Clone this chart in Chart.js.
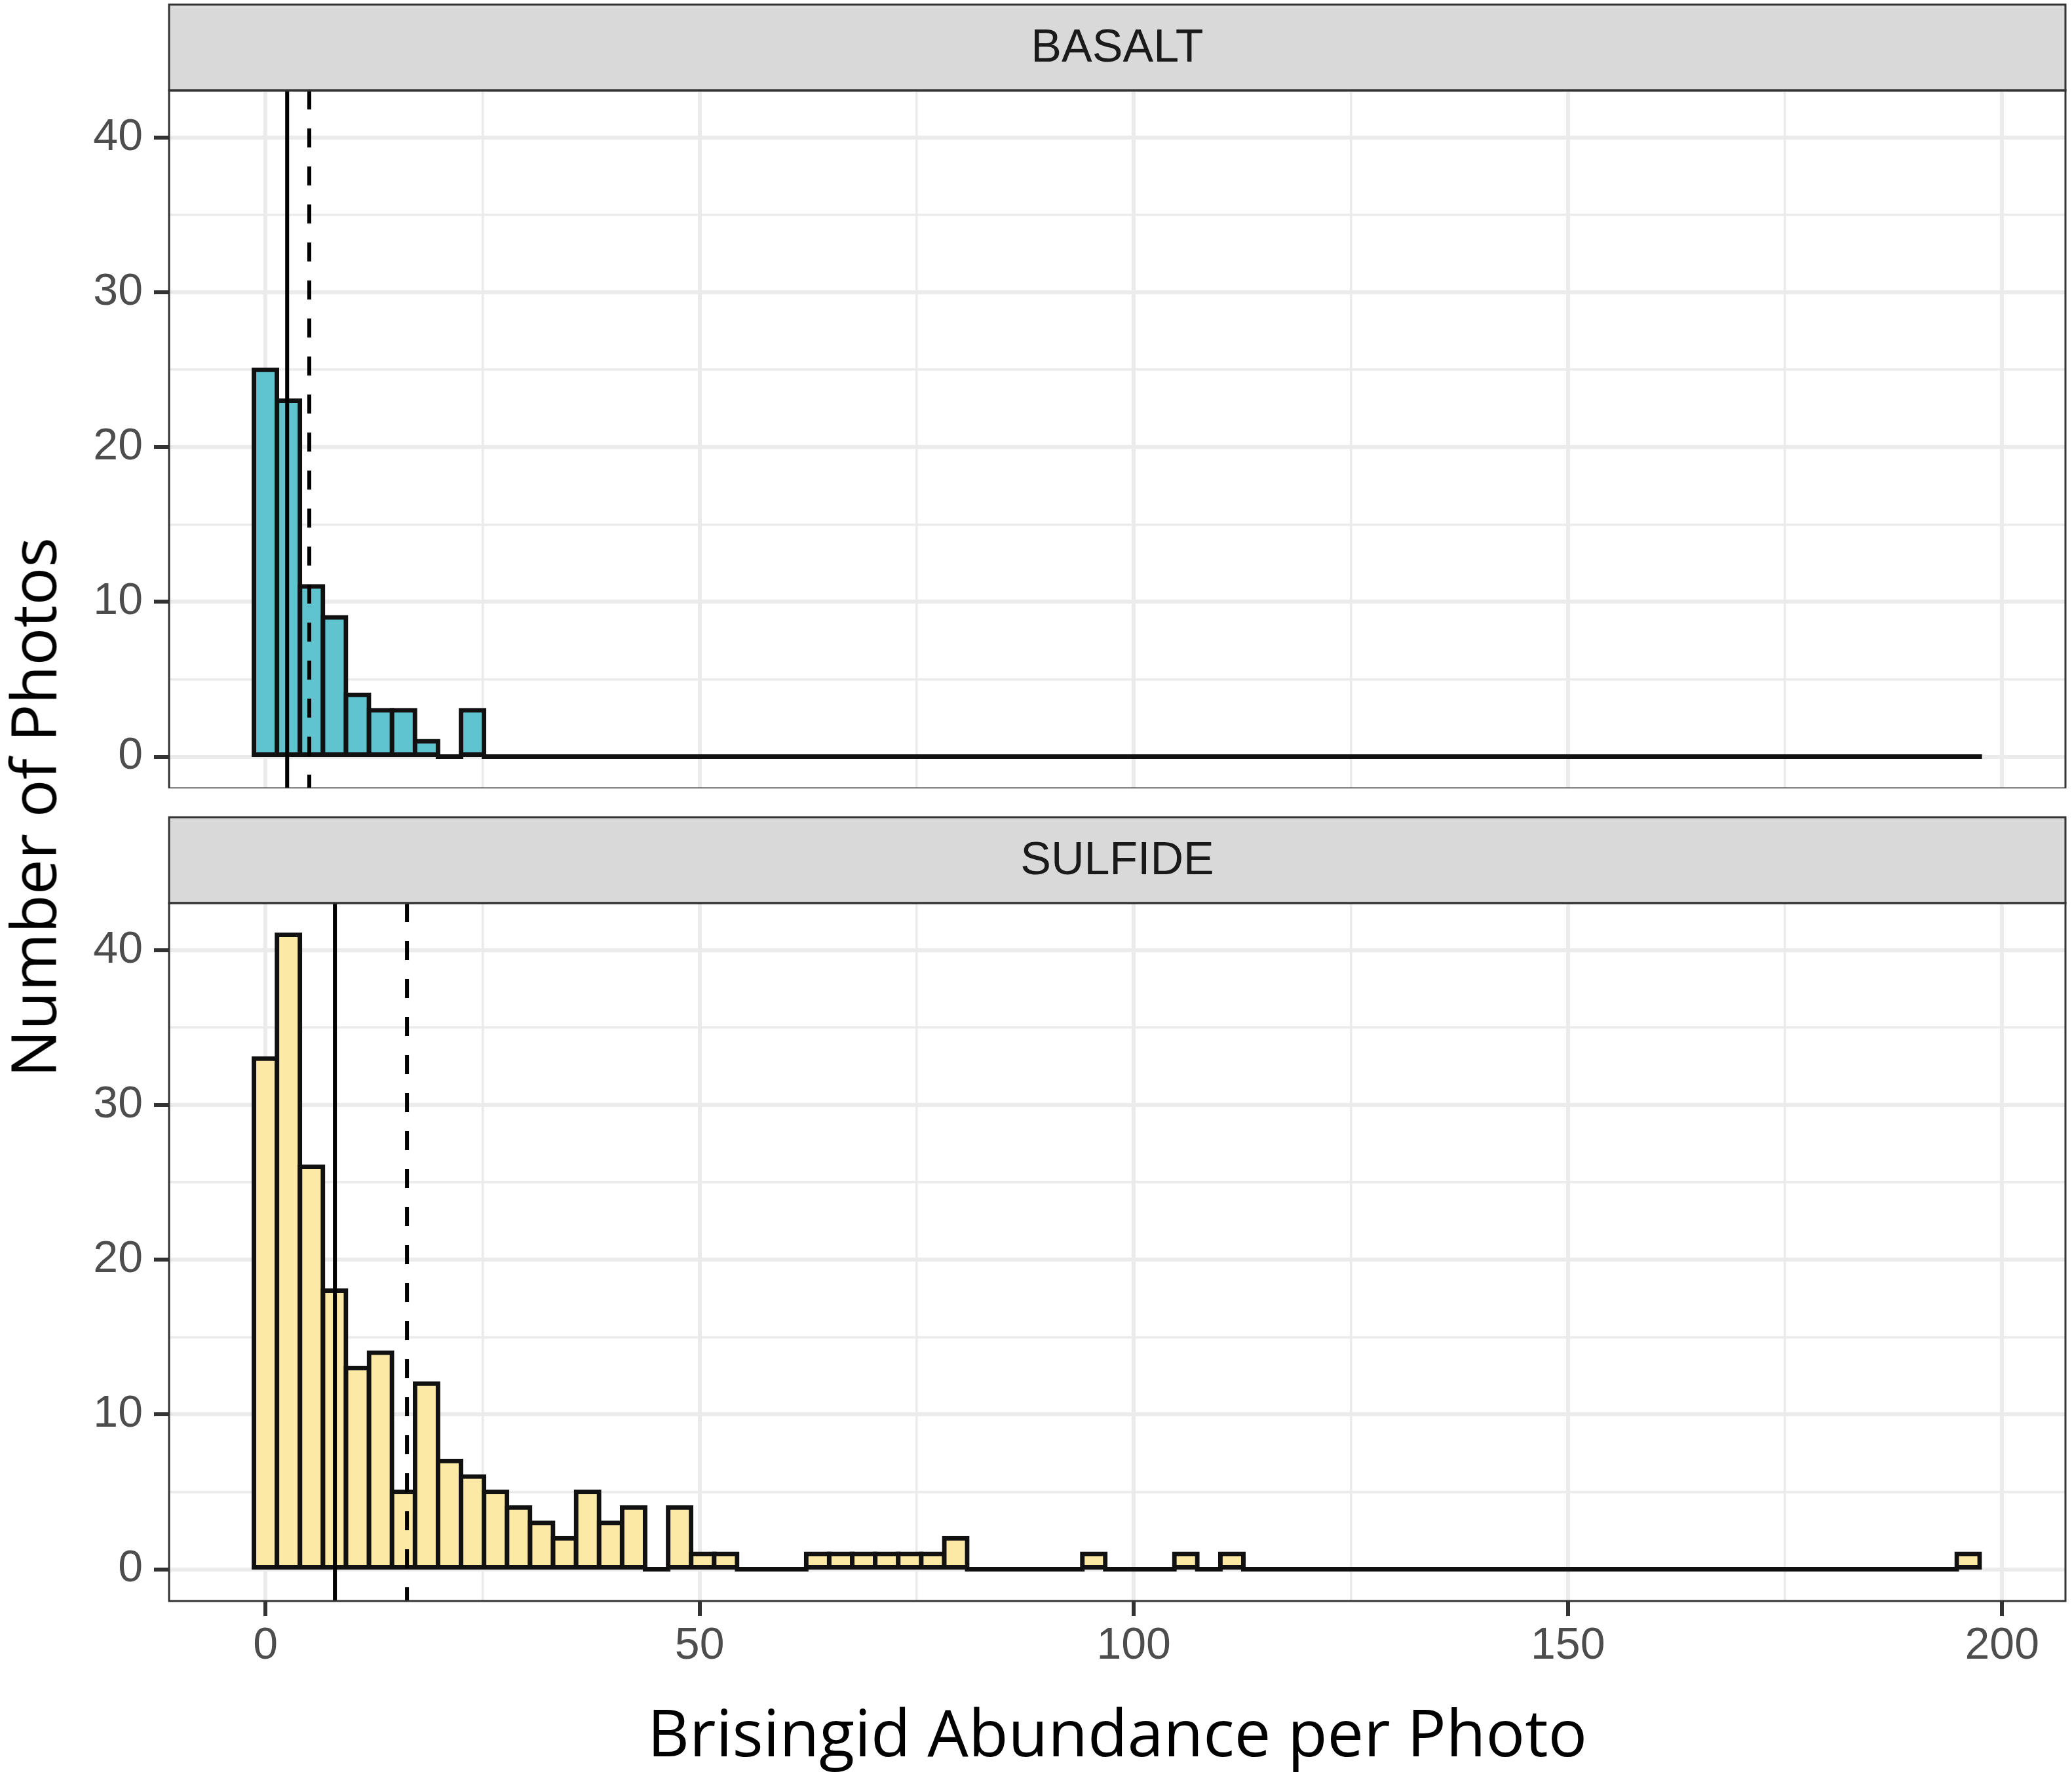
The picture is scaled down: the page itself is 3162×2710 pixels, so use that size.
<!DOCTYPE html>
<html>
<head>
<meta charset="utf-8">
<title>Brisingid Abundance per Photo</title>
<script src="https://cdn.jsdelivr.net/npm/chart.js@4.4.0/dist/chart.umd.min.js"></script>
<style>
  html, body { margin: 0; padding: 0; background: #fff; }
  #wrap { position: relative; width: 3162px; height: 2710px; overflow: hidden; background: #fff; }
  canvas { position: absolute; left: 0; }
  #basalt { top: 0; }
  #sulfide { top: 1210px; }
  #ytitle {
    position: absolute; left: 48px; top: 1232px;
    transform: translate(-50%, -50%) rotate(-90deg);
    font: 96px "Open Sans"; color: #000; white-space: nowrap;
  }
</style>
</head>
<body>
<div id="wrap">
  <canvas id="basalt" width="3162" height="1203"></canvas>
  <canvas id="sulfide" width="3162" height="1500"></canvas>
  <div id="ytitle">Number of Photos</div>
</div>
<script>
// histogram bins (centred on k * binWidth), counts
const binWidth = 2.65;
const basaltCounts = [
  25, 23, 11, 9, 4, 3, 3, 1, 0, 3, 0, 0, 0, 0, 0,
  0, 0, 0, 0, 0, 0, 0, 0, 0, 0, 0, 0, 0, 0, 0,
  0, 0, 0, 0, 0, 0, 0, 0, 0, 0, 0, 0, 0, 0, 0,
  0, 0, 0, 0, 0, 0, 0, 0, 0, 0, 0, 0, 0, 0, 0,
  0, 0, 0, 0, 0, 0, 0, 0, 0, 0, 0, 0, 0, 0, 0
];
const sulfideCounts = [
  33, 41, 26, 18, 13, 14, 5, 12, 7, 6, 5, 4, 3, 2, 5,
  3, 4, 0, 4, 1, 1, 0, 0, 0, 1, 1, 1, 1, 1, 1,
  2, 0, 0, 0, 0, 0, 1, 0, 0, 0, 1, 0, 1, 0, 0,
  0, 0, 0, 0, 0, 0, 0, 0, 0, 0, 0, 0, 0, 0, 0,
  0, 0, 0, 0, 0, 0, 0, 0, 0, 0, 0, 0, 0, 0, 1
];
// solid = median, dashed = mean
const basaltLines = [2.5, 5.05];
const sulfideLines = [8, 16.3];

const xTicks = [0, 50, 100, 150, 200];
const xMinor = [25, 75, 125, 175];
const yTicks = [0, 10, 20, 30, 40];
const yMinor = [5, 15, 25, 35];
const xRange = [-11.1, 207.3];
const yRange = [-2.05, 43.05];

const binCenters = basaltCounts.map((c, k) => k * binWidth);

// grey strip with the facet name + panel border
const facetPlugin = {
  id: 'facet',
  afterDraw(chart, args, opts) {
    const { ctx, chartArea: a } = chart;
    ctx.save();
    ctx.fillStyle = '#d9d9d9';
    ctx.fillRect(a.left, opts.stripTop, a.right - a.left, a.top - opts.stripTop);
    ctx.strokeStyle = '#333333';
    ctx.lineWidth = 3;
    ctx.strokeRect(a.left, opts.stripTop, a.right - a.left, a.top - opts.stripTop);
    ctx.strokeRect(a.left, a.top, a.right - a.left, a.bottom - a.top);
    ctx.fillStyle = '#1a1a1a';
    ctx.font = '70px "Liberation Sans"';
    ctx.textAlign = 'center';
    ctx.textBaseline = 'middle';
    ctx.fillText(opts.label, (a.left + a.right) / 2, (opts.stripTop + a.top) / 2 + 2);
    ctx.restore();
  }
};

function isMajor(list, ctx) {
  return ctx.tick && list.includes(ctx.tick.value);
}

function isEmptyBin(c) {
  return c.raw && c.raw.y === 0;
}

function makePanel(id, label, counts, fill, lines, stripTop, padTop, bottom) {
  const ctx = document.getElementById(id).getContext('2d');
  return new Chart(ctx, {
    type: 'bar',
    data: {
      datasets: [{
        type: 'line',
        data: [{ x: lines[0], y: yRange[0] }, { x: lines[0], y: yRange[1] }],
        borderColor: '#000',
        borderWidth: 6,
        pointRadius: 0,
        order: 0
      }, {
        type: 'line',
        data: [{ x: lines[1], y: yRange[1] }, { x: lines[1], y: yRange[0] }],
        borderColor: '#000',
        borderWidth: 6,
        borderDash: [29, 29],
        pointRadius: 0,
        order: 0
      }, {
        type: 'bar',
        data: counts.map((c, k) => ({ x: binCenters[k], y: c })),
        // empty bins show only as the outline along zero
        backgroundColor: c => isEmptyBin(c) ? '#111111' : fill,
        borderColor: '#111111',
        borderWidth: c => isEmptyBin(c) ? 0 : 7,
        borderSkipped: false,
        inflateAmount: 3.5,
        barPercentage: 1,
        categoryPercentage: 1,
        order: 1
      }]
    },
    options: {
      responsive: false,
      animation: false,
      layout: { padding: { top: padTop, right: 10, left: 0, bottom: 0 } },
      plugins: {
        legend: { display: false },
        tooltip: { enabled: false },
        facet: { label: label, stripTop: stripTop }
      },
      scales: {
        x: {
          type: 'linear',
          min: xRange[0],
          max: xRange[1],
          offset: false,
          afterBuildTicks: s => { s.ticks = xTicks.concat(xMinor).sort((a, b) => a - b).map(v => ({ value: v })); },
          afterFit: s => { s.height = bottom ? 267 : 0; s.paddingLeft = 0; s.paddingRight = 0; },
          border: { display: false },
          grid: {
            offset: false,
            color: '#ebebeb',
            lineWidth: c => isMajor(xTicks, c) ? 6 : 3.5,
            drawTicks: bottom,
            tickLength: 23,
            tickWidth: 6,
            tickColor: c => isMajor(xTicks, c) ? '#333333' : 'rgba(0,0,0,0)'
          },
          ticks: {
            display: bottom,
            autoSkip: false,
            maxRotation: 0,
            padding: 5,
            color: '#4d4d4d',
            font: { family: 'Liberation Sans', size: 68 },
            callback: v => xTicks.includes(v) ? String(v) : ''
          },
          title: {
            display: bottom,
            text: 'Brisingid Abundance per Photo',
            color: '#000',
            font: { family: 'Open Sans', size: 99, lineHeight: 1 },
            padding: { top: 0, bottom: 9 }
          }
        },
        y: {
          min: yRange[0],
          max: yRange[1],
          afterBuildTicks: s => { s.ticks = yTicks.concat(yMinor).sort((a, b) => a - b).map(v => ({ value: v })); },
          afterFit: s => { s.width = 258; s.paddingTop = 0; s.paddingBottom = 0; },
          border: { display: false },
          grid: {
            color: '#ebebeb',
            lineWidth: c => isMajor(yTicks, c) ? 6 : 3.5,
            tickLength: 23,
            tickWidth: 6,
            tickColor: c => isMajor(yTicks, c) ? '#333333' : 'rgba(0,0,0,0)'
          },
          ticks: {
            autoSkip: false,
            padding: 17,
            color: '#4d4d4d',
            font: { family: 'Liberation Sans', size: 68 },
            callback: v => yTicks.includes(v) ? String(v) : ''
          }
        }
      }
    },
    plugins: [facetPlugin]
  });
}

makePanel('basalt', 'BASALT', basaltCounts, '#60c4ce', basaltLines, 7, 138, false);
makePanel('sulfide', 'SULFIDE', sulfideCounts, '#fde9a6', sulfideLines, 37, 168, true);
</script>
</body>
</html>
